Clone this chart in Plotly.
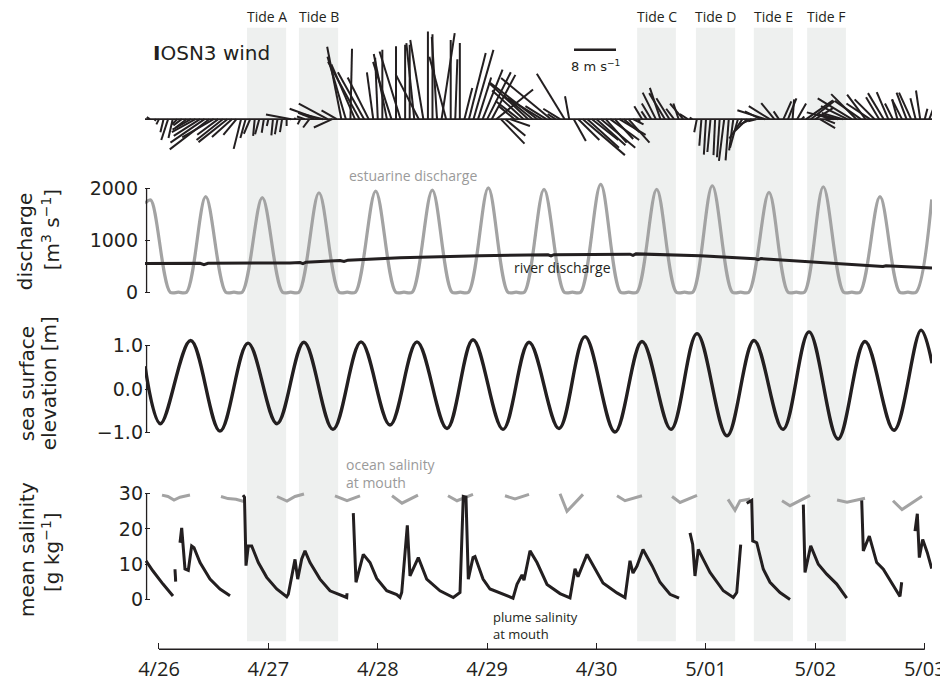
import plotly.graph_objects as go

# ---------------- data ----------------
# time axis: hours since 4/26 00:00
day_ticks = [0, 24, 48, 72, 96, 120, 144, 168]
day_labels = ["4/26", "4/27", "4/28", "4/29", "4/30", "5/01", "5/02", "5/03"]

tide_names = ["Tide A", "Tide B", "Tide C", "Tide D", "Tide E", "Tide F"]
tide_start_h = [19.3, 30.7, 104.9, 117.8, 130.5, 142.2]
tide_end_h = [27.9, 39.3, 113.4, 126.4, 139.1, 150.7]

# IOSN3 wind, hourly (m/s)
wind_h = list(range(-2, 170))
wind_u = [-0.6, 0.3,
          -0.5, -0.6, -1.3, -0.8, -1.0, -1.6, -2.0, -3.5, -4.5, -5.0,
          -6.5, -7.5, -6.0, -4.0, -5.0, -5.5, -3.8, -2.5, -1.4, -1.0,
          -1.2, -0.3, -0.8, -0.4, -0.3, -0.3, -0.5, -0.4, 0.0, -4.8,
          -0.3, -0.5, -1.5, -1.2, -3.0, -5.5, -4.0, -5.5, -3.5, -2.9,
          -2.7, -3.5, 0.3, -4.5, -6.0, -5.0, -4.0, -1.2, -0.5, 0.0,
          -2.5, -3.5, 0.0, -4.0, 0.0, 0.0, -1.5, -4.4, -2.5, 0.0,
          0.0, -1.0, 2.5, -3.2, 0.0, 0.4, 0.0, 1.5, 3.2, 3.8,
          2.5, 3.8, 4.5, 4.5, 7.0, 4.5, 3.8, 3.8, -3.0, -4.5,
          -6.0, -7.5, -5.5, -9.0, -6.5, -4.0, -9.5, -1.5, -3.2, -5.3,
          -0.8, 2.3, 4.0, 8.0, 6.0, 5.0, 5.5, 6.5, 4.0, 5.5,
          3.5, 5.0, 3.0, 4.0, 2.0, 0.5, -1.5, -1.0, -1.8, -2.5,
          -2.0, -3.0, -2.5, -1.5, -1.0, -2.5, -1.5, -0.5, -0.5, -0.4,
          -0.4, -0.6, -0.3, -0.5, -1.0, -0.6, -0.8, -1.5, -2.5, -2.3,
          -2.2, -1.5, -3.0, -5.3, -4.0, -2.5, -1.0, 1.5, 1.6, 0.3,
          1.7, 0.5, 5.1, 4.5, 3.5, 2.9, 2.0, -2.0, -5.1, -3.0,
          -4.0, -5.0, -6.5, -4.8, -5.0, -3.5, -4.5, -3.8, -2.5, -3.0,
          -2.2, -1.5, -1.0, -1.9, -1.9, -2.3, -1.0, -0.8, 0.5, 1.9]
wind_v = [0.4, -0.3,
          -1.0, -2.5, -4.0, -3.6, -1.0, -1.2, -1.6, -2.0, -2.5, -3.2,
          -4.5, -5.8, -3.5, -3.0, -4.0, -4.4, -3.4, -3.0, -5.7, -3.6,
          -2.8, -3.2, -2.9, -2.6, -1.3, -3.1, -2.9, -2.5, -1.3, 0.9,
          0.2, -1.0, 0.5, -1.6, 1.2, 2.0, 1.0, 3.0, -1.6, 1.7,
          13.9, 12.0, 13.5, 10.5, 11.0, 9.0, 8.0, 9.0, 11.8, 13.3,
          12.5, 11.0, 14.0, 13.0, 14.3, 14.3, 14.6, 8.6, 15.2, 16.8,
          16.3, 15.8, 16.5, 12.0, 15.2, 11.5, 14.6, 6.0, 12.7, 13.3,
          8.0, 9.5, 9.0, 8.5, 5.7, -4.7, -3.2, -1.3, 2.5, 3.5,
          5.5, 7.0, 4.5, 7.0, 4.0, 2.5, 7.9, 1.0, 2.0, 8.7,
          4.4, -4.2, -4.0, -6.9, -5.5, -4.0, -5.0, -5.5, -4.5, -4.0,
          -3.8, -3.0, -2.5, -4.5, -1.0, -0.5, 2.5, 1.5, 3.0, 5.1,
          6.0, 5.0, 4.0, 2.0, 3.0, 3.0, 1.0, 0.3, -2.5, -5.1,
          -6.8, -6.3, -6.9, -7.3, -8.0, -7.9, -6.0, -5.5, -3.7, -2.3,
          -1.0, -0.4, 1.5, 1.7, 2.5, 3.1, 1.5, 3.4, 4.0, 3.8,
          3.0, 0.5, 3.6, 3.5, 2.2, -1.7, -0.8, 1.0, 1.3, 0.8,
          1.2, 2.5, 4.0, 4.8, 3.5, 4.7, 3.0, 3.8, 4.2, 5.0,
          5.2, 3.0, 3.8, 3.8, 5.1, 5.1, 4.0, 5.5, 2.0, 5.1]

# estuarine discharge (m3/s): peaks and the flat zero stretches between them
est_h = [-3.07, -1.82, 2.45, 4.25, 6.05, 10.25, 14.65, 16.45, 18.25, 22.66,
         27.1, 28.9, 30.7, 35.10, 39.5, 41.3, 43.1, 47.54, 51.95, 53.75,
         55.55, 59.96, 64.3, 66.1, 67.9, 72.25, 76.55, 78.35, 80.15, 84.47,
         88.9, 90.7, 92.5, 96.91, 101.25, 103.05, 104.85, 109.19, 113.5, 115.3,
         117.1, 121.39, 125.8, 127.6, 129.4, 133.83, 138.0, 139.8, 141.6, 145.74,
         150.2, 152.0, 153.8, 158.18, 162.5, 164.3, 166.1, 169.53]
est_q = [1717, 1782, 0, 0, 0, 1845, 0, 0, 0, 1826,
         0, 0, 0, 1921, 0, 0, 0, 1954, 0, 0,
         0, 1973, 0, 0, 0, 2017, 0, 0, 0, 1985,
         0, 0, 0, 2081, 0, 0, 0, 1985, 0, 0,
         0, 2056, 0, 0, 0, 1928, 0, 0, 0, 2037,
         0, 0, 0, 1845, 0, 0, 0, 1793]

# river discharge (m3/s)
river_h = [-3.07, 9.0, 9.87, 10.75, 28.74, 30.93, 31.59, 32.25, 39.71, 40.59,
           41.47, 52.87, 70.43, 85.35, 86.0, 86.66, 103.33, 103.99, 104.65, 118.69,
           130.76, 131.41, 132.07, 145.02, 158.18, 158.84, 159.5, 169.59]
river_q = [555, 558, 532, 558, 565, 572, 550, 578, 610, 592,
           618, 665, 705, 722, 702, 725, 735, 712, 740, 705,
           648, 628, 648, 578, 515, 498, 512, 465]

# sea surface elevation (m), turning points
ssh_h = [-3.07, 0.3, 6.95, 13.38, 19.53, 25.89, 31.81, 38.17, 44.32, 50.68,
         56.60, 63.19, 68.89, 75.47, 81.18, 87.76, 93.46, 100.04, 105.97, 112.33,
         118.04, 124.62, 130.54, 136.90, 142.61, 148.97, 154.89, 161.25, 167.18, 169.59]
ssh_m = [0.53, -0.79, 1.12, -0.96, 1.06, -0.79, 1.08, -0.92, 1.09, -0.82,
         1.09, -0.90, 1.14, -0.92, 1.08, -0.90, 1.21, -0.98, 1.10, -0.92,
         1.28, -1.07, 1.12, -0.92, 1.32, -1.14, 1.10, -0.94, 1.36, 0.60]

# ocean salinity at mouth (g/kg)
ocean_h = [0.66, 1.97, 3.29, 4.61, 6.80, None, 13.6, 15.14, 16.89, 18.65, None,
           25.89, 28.08, 29.84, 31.81, None, 38.61, 41.25, 44.1, None,
           51.12, 53.31, 56.82, None, 63.4, 65.38, 68.89, None, 75.91, 78.1, 81.18, None,
           87.98, 89.51, 93.02, None, 100.48, 102.24, 105.97, None, 112.55, 114.31, 118.04, None,
           124.84, 126.37, 127.47, 129.66, None, 136.68, 138.44, 142.83, None,
           148.76, 150.95, 154.89, None, 161.03, 163.01, 167.4]
ocean_s = [29.6, 29.2, 28.2, 29.0, 29.6, None, 29.2, 28.6, 28.4, 27.8, None,
           29.2, 27.9, 29.2, 29.9, None, 29.4, 28.0, 29.4, None,
           29.4, 27.3, 29.6, None, 29.4, 28.0, 29.8, None, 29.4, 28.5, 29.8, None,
           30.0, 25.0, 29.8, None, 29.4, 28.0, 29.4, None, 29.2, 27.5, 29.5, None,
           28.4, 25.3, 28.0, 28.5, None, 28.0, 26.6, 29.5, None,
           28.2, 27.6, 28.7, None, 28.0, 25.5, 29.3]

# plume salinity at mouth (g/kg)
plume_h = [-2.85, -1.32, 0.88, 3.07, None,
           3.51, 3.66, None,
           4.61, 4.98, 5.70, 6.43, 7.17, 7.68, 9.0, 11.19, 13.38, 15.58, None,
           18.43, 18.76, 19.09, 19.59, 20.34, 21.79, 23.63, 25.82, 28.02, 28.37,
           29.84, 30.43, 31.31, 32.03, 33.13, 35.32, 37.52, 38.99, 41.18, 41.25, None,
           42.63, 43.22, 44.82, 46.29, 47.76, 49.96, 52.15, 52.87, 53.25, 54.48,
           55.07, 56.89, 58.73, 61.65, 64.57, 66.04, 66.76, 67.35, 67.86, 68.89,
           69.33, 71.09, 72.62, 75.47, 77.67, 78.54, 79.64, 80.08, 81.40, 82.93,
           85.13, 87.98, 90.17, 91.27, 91.93, 93.90, 95.22, 97.41, 100.48, 102.24,
           103.33, 103.99, 104.87, 106.19, 108.16, 109.92, 112.11, 114.09, None,
           116.5, 117.09, 117.59, 118.32, 119.42, 120.89, 123.81, 126.0, 126.75, 127.62, None,
           128.94, 130.04, 130.26, 131.14, 132.58, 134.05, 136.24, 138.44, None,
           141.36, 141.73, 142.98, 144.65, 146.49, 148.69, 150.88, None,
           154.17, 154.52, 155.84, 157.46, 158.91, 160.75, 162.57, 162.94, None,
           165.86, 166.37, 166.81, 167.55, 168.56, 169.53]
plume_s = [11.0, 8.1, 4.4, 1.0, None,
           8.6, 5.1, None,
           16.1, 20.3, 8.7, 8.3, 15.2, 14.7, 10.5, 5.8, 3.0, 1.1, None,
           29.6, 29.0, 9.6, 15.2, 15.2, 10.5, 6.3, 3.0, 0.8, 1.5,
           11.4, 5.8, 11.5, 13.8, 10.5, 5.8, 2.5, 1.7, 0.6, 1.8, None,
           24.5, 4.9, 12.8, 10.5, 6.0, 2.5, 1.4, 0.6, 2.0, 21.0,
           6.7, 11.9, 5.8, 2.5, 0.6, 2.0, 29.2, 29.0, 5.8, 11.9,
           12.2, 5.8, 3.0, 1.5, 0.4, 4.3, 7.0, 5.5, 13.8, 10.5,
           4.3, 1.7, 0.5, 8.7, 6.5, 12.8, 9.6, 4.7, 1.9, 0.6,
           11.0, 7.5, 9.5, 14.2, 9.6, 4.9, 1.5, 0.4, None,
           18.9, 15.6, 6.7, 14.2, 11.4, 7.7, 2.5, 0.6, 2.0, 15.6, None,
           27.3, 28.1, 16.6, 16.1, 8.6, 4.9, 2.0, 0.0, None,
           26.9, 7.7, 15.2, 10.0, 7.2, 4.4, 0.4, None,
           28.1, 13.8, 18.0, 10.5, 8.6, 4.9, 0.9, 4.9, None,
           19.4, 24.3, 11.9, 17.0, 13.3, 8.8]

scale_bar_ms = 8

# ---------------- layout geometry ----------------
# The page body has an 8px margin, so the figure is drawn from (8, 8) on screen.
SCR_W, SCR_H = 948, 685
OFF = 8
FW, FH = SCR_W - OFF, SCR_H - OFF
PLOT_L, PLOT_R = 145, 932            # screen px of the plot area edges
X_RANGE = [-3.07, 169.59]
PLOT_W = PLOT_R - PLOT_L
PX_PER_H = PLOT_W / (X_RANGE[1] - X_RANGE[0])

BLACK = "#231f20"
GREY = "#a3a3a3"
BAND = "#eef0ef"
DEJAVU = "DejaVu Sans"
MYRIAD = "Open Sans"


def px_y(py):
    return 1 - (py - OFF) / FH


def px_x(px):
    return (px - PLOT_L) / PLOT_W


def ydom(top_px, bot_px):
    return [px_y(bot_px), px_y(top_px)]


def yrng(top_px, bot_px, ref_px, ref_val, px_per_unit):
    return [ref_val - (bot_px - ref_px) / px_per_unit,
            ref_val + (ref_px - top_px) / px_per_unit]


WIND_PX = 42 / 8  # px per m/s (from the 8 m/s scale bar)
wind_dom = (25, 168)
dis_dom = (172, 300)
ssh_dom = (322, 450)
sal_dom = (455, 612)

H_PER_MS = WIND_PX / PX_PER_H

fig = go.Figure()

# wind sticks
sx, sy = [], []
for h, u, v in zip(wind_h, wind_u, wind_v):
    sx += [h, h + u * H_PER_MS, None]
    sy += [0, v, None]
fig.add_trace(go.Scatter(x=sx, y=sy, mode="lines", yaxis="y",
                         line=dict(color=BLACK, width=2), hoverinfo="skip"))

# discharge
fig.add_trace(go.Scatter(x=est_h, y=est_q, mode="lines", yaxis="y2",
                         line=dict(color=GREY, width=3.2, shape="spline", smoothing=0.9)))
fig.add_trace(go.Scatter(x=river_h, y=river_q, mode="lines", yaxis="y2",
                         line=dict(color=BLACK, width=3)))

# sea surface elevation
fig.add_trace(go.Scatter(x=ssh_h, y=ssh_m, mode="lines", yaxis="y3",
                         line=dict(color=BLACK, width=3.4, shape="spline", smoothing=1)))

# salinity
fig.add_trace(go.Scatter(x=ocean_h, y=ocean_s, mode="lines", yaxis="y4",
                         line=dict(color=GREY, width=3)))
fig.add_trace(go.Scatter(x=plume_h, y=plume_s, mode="lines", yaxis="y4",
                         line=dict(color=BLACK, width=3)))

shapes = []
annotations = []

# tide bands + labels
for name, a, b in zip(tide_names, tide_start_h, tide_end_h):
    shapes.append(dict(type="rect", xref="x", yref="paper", x0=a, x1=b,
                       y0=px_y(646), y1=px_y(28), fillcolor=BAND, line=dict(width=0),
                       layer="below"))
    annotations.append(dict(x=(a + b) / 2, y=px_y(17), xref="x", yref="paper",
                            text=name, showarrow=False, xanchor="center", yanchor="middle",
                            font=dict(family=MYRIAD, size=14, color=BLACK)))

# wind baseline
shapes.append(dict(type="line", xref="x domain", yref="y", x0=0, x1=1, y0=0, y1=0,
                   line=dict(color=BLACK, width=1.8)))
# scale bar
bar_x0 = 91.05
bar_y = 13.33
shapes.append(dict(type="line", xref="x", yref="y", x0=bar_x0,
                   x1=bar_x0 + scale_bar_ms * H_PER_MS, y0=bar_y, y1=bar_y,
                   line=dict(color=BLACK, width=2.5)))
annotations.append(dict(x=bar_x0 + scale_bar_ms * H_PER_MS / 2, y=px_y(66), xref="x", yref="paper",
                        text="8 m s<sup>−1</sup>", showarrow=False, yanchor="middle",
                        font=dict(family=DEJAVU, size=13, color=BLACK)))
annotations.append(dict(x=px_x(151), y=px_y(53), xref="paper", yref="paper",
                        text="<b>I</b>OSN3 wind", showarrow=False, xanchor="left",
                        yanchor="middle", font=dict(family=DEJAVU, size=20, color=BLACK)))

# y spines
for yref, lo, hi in [("y2", 0, 2000), ("y3", -1, 1), ("y4", 0, 30)]:
    shapes.append(dict(type="line", xref="x domain", yref=yref, x0=0.002, x1=0.002,
                       y0=lo, y1=hi, line=dict(color=BLACK, width=1.3)))

# bottom axis line
AX_Y = px_y(654)
shapes.append(dict(type="line", xref="x", yref="paper", x0=day_ticks[0], x1=day_ticks[-1],
                   y0=AX_Y, y1=AX_Y, line=dict(color=BLACK, width=1.3)))


def lab(text, xpx, ypx, color, size=14, anchor="center"):
    annotations.append(dict(x=px_x(xpx), y=px_y(ypx), xref="paper", yref="paper",
                            text=text, showarrow=False, xanchor=anchor, yanchor="middle",
                            align="left", font=dict(family=MYRIAD, size=size, color=color)))


lab("estuarine discharge", 413, 177, "#9a9a9a")
lab("river discharge", 562, 269, BLACK)
lab("ocean salinity<br>at mouth", 344, 477, "#9a9a9a", size=14, anchor="left")
lab("plume salinity<br>at mouth", 491, 630, BLACK, size=13, anchor="left")


def ytitle(text, xpx, ypx):
    annotations.append(dict(x=px_x(xpx), y=px_y(ypx), xref="paper", yref="paper",
                            text=text, showarrow=False, textangle=-90,
                            xanchor="center", yanchor="middle",
                            font=dict(family=DEJAVU, size=20, color=BLACK)))


ytitle("discharge", 25, 244)
ytitle("[m<sup>3</sup> s<sup>−1</sup>]", 51, 232)
ytitle("sea surface", 27, 386)
ytitle("elevation [m]", 49, 386)
ytitle("mean salinity", 27, 553)
ytitle("[g kg<sup>−1</sup>]", 51, 556)

tickfont = dict(family=DEJAVU, size=19, color=BLACK)
common_y = dict(showgrid=False, zeroline=False, showline=False, anchor="x",
                ticks="inside", ticklen=5, tickwidth=1.2, tickcolor=BLACK, tickfont=tickfont)

fig.update_layout(
    width=FW, height=FH,
    margin=dict(l=PLOT_L - OFF, r=FW - (PLOT_R - OFF), t=0, b=0),
    paper_bgcolor="white", plot_bgcolor="rgba(0,0,0,0)",
    showlegend=False,
    xaxis=dict(range=X_RANGE, anchor="free", position=AX_Y, showgrid=False, zeroline=False,
               showline=False, tickvals=day_ticks, ticktext=day_labels, ticks="inside",
               ticklen=6, tickwidth=1.2, tickcolor=BLACK, ticklabelstandoff=6,
               tickfont=dict(family=MYRIAD, size=20, color=BLACK)),
    yaxis=dict(domain=ydom(*wind_dom), range=yrng(*wind_dom, 120, 0, WIND_PX),
               visible=False, anchor="x"),
    yaxis2=dict(domain=ydom(*dis_dom), range=yrng(*dis_dom, 294.3, 0, 104.3 / 2000),
                tickvals=[0, 1000, 2000], ticktext=["0", "1000", "2000"],
                ticklabelstandoff=6, **common_y),
    yaxis3=dict(domain=ydom(*ssh_dom), range=yrng(*ssh_dom, 392.15, 0, 43.85),
                tickvals=[-1, 0, 1], ticktext=["−1.0", "0.0", "1.0"],
                ticklabelstandoff=1, **common_y),
    yaxis4=dict(domain=ydom(*sal_dom), range=yrng(*sal_dom, 604, 0, 3.557),
                tickvals=[0, 10, 20, 30], ticktext=["0", "10", "20", "30"],
                ticklabelstandoff=1, **common_y),
    shapes=shapes,
    annotations=annotations,
)

fig.write_html("out.html")
